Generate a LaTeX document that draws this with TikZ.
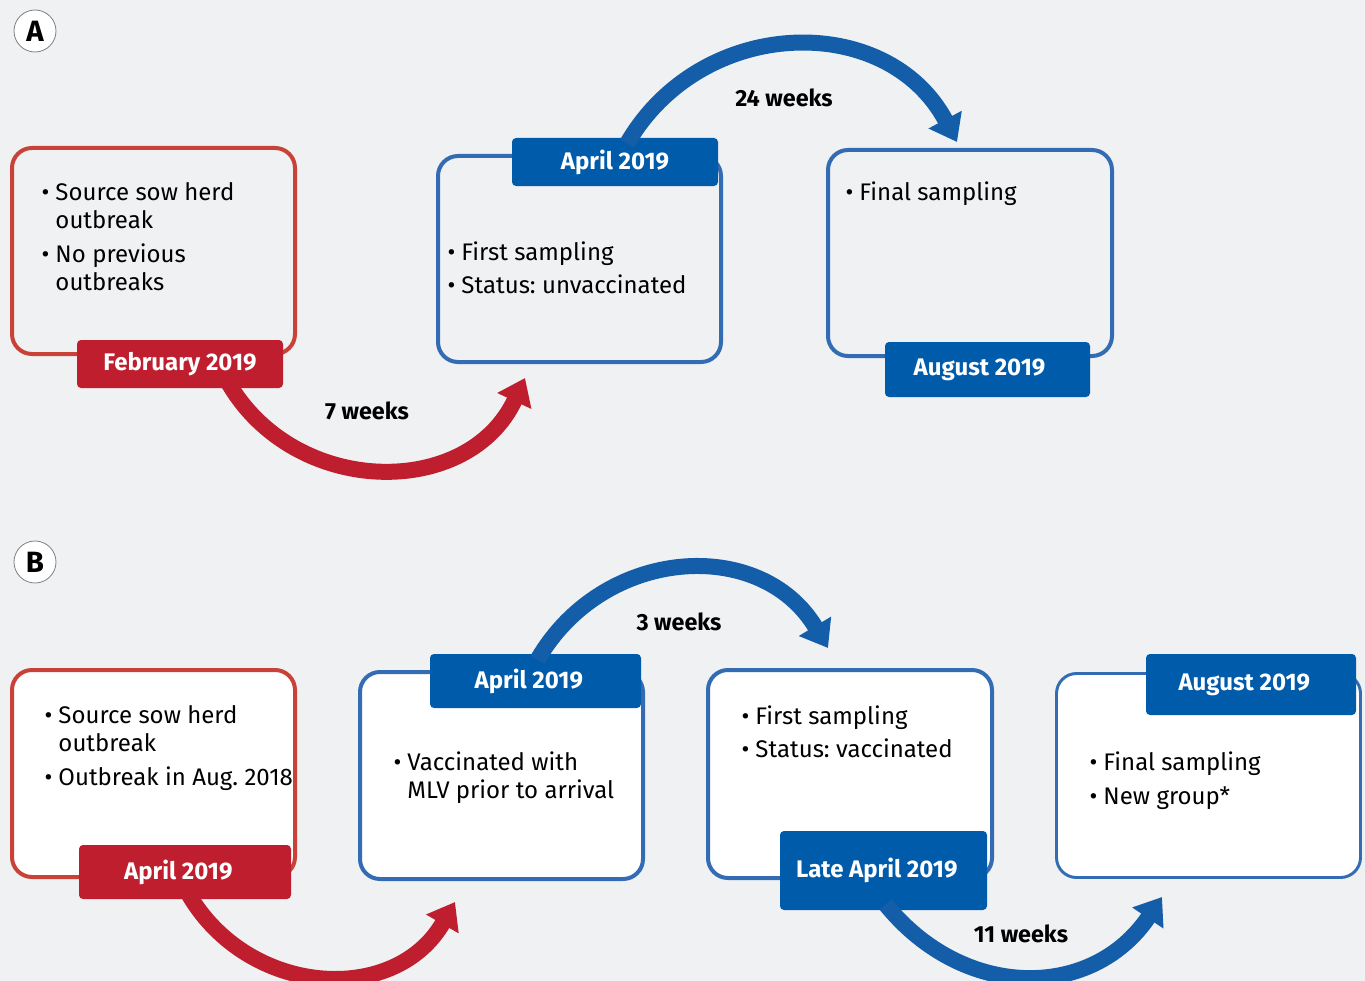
\documentclass[tikz,border=0pt]{standalone}
\usepackage{fontspec}
\setmainfont{Fira Sans}
\usetikzlibrary{arrows.meta}
\usetikzlibrary{calc}

\definecolor{bgray}{RGB}{239,241,243}
\definecolor{tabred}{RGB}{190,30,45}
\definecolor{linered}{RGB}{201,66,56}
\definecolor{tabblue}{RGB}{0,91,170}
\definecolor{lineblue}{RGB}{52,108,180}
\definecolor{arrowblue}{RGB}{20,93,168}

\frenchspacing
\newcommand{\pts}[1]{{\fontsize{18}{21}\selectfont
  \begin{tabular}[t]{@{}l@{\hspace{4.5pt}}l@{}}#1\end{tabular}}}

\tikzset{
  box/.style={line width=3pt,rounded corners=15pt,
    minimum width=283*0.75pt,minimum height=206*0.75pt,inner sep=0pt},
  tab/.style={rounded corners=3pt,text=white,inner sep=0pt,
    font=\bfseries\fontsize{18}{20}\selectfont,
    minimum width=206*0.75pt,minimum height=48*0.75pt},
  redtab/.style={tab,fill=tabred},
  bluetab/.style={tab,fill=tabblue},
  redarrow/.style={draw=tabred,line width=12pt,
    -{Triangle[length=19pt,width=27pt]}},
  bluearrow/.style={draw=arrowblue,line width=12pt,
    -{Triangle[length=19pt,width=27pt]}},
  weeks/.style={font=\bfseries\fontsize{17.5}{20}\selectfont},
  panel/.style={circle,draw=gray,line width=0.6pt,fill=white,inner sep=0pt,
    minimum size=42*0.75pt,font=\bfseries\fontsize{22}{24}\selectfont},
}

\begin{document}
\begin{tikzpicture}[x=0.75pt,y=0.75pt]
\fill[bgray] (0,0) rectangle (1365,-981);
\useasboundingbox (0,0) rectangle (1365,-981);

% ---- A ----
\node[panel] (pa) at (35,-31) {A};

\node[box,draw=linered] (a1) at (153.5,-251) {};
\node[box,draw=lineblue] (a2) at (579.5,-259) {};
\node[box,draw=lineblue,minimum width=284*0.75pt] (a3) at (970,-253) {};

\node[redtab] (a1tab) at (180,-364) {February 2019};
\node[bluetab] (a2tab) at (615,-162) {April 2019};
\node[bluetab,minimum width=205*0.75pt,minimum height=55*0.75pt] (a3tab) at (987.5,-369.5) {\hspace*{-12pt}August 2019};

\node[anchor=base west] (a1txt) at (37,-200.5) {\pts{\textbullet & Source sow herd\\
  & outbreak\\[4.5pt]
  \textbullet & No previous\\
  & outbreaks}};
\node[anchor=base west] (a2txt) at (443,-260.5) {\pts{\textbullet & First sampling\\[4pt]
  \textbullet & Status: unvaccinated}};
\node[anchor=base west] (a3txt) at (841,-200.5) {\pts{\textbullet & Final sampling}};

\coordinate (a2in) at (525,-378);
\coordinate (a3in) at (957,-142);
\draw[redarrow] ($(a1tab.south)+(48,6)$) to[out=-60,in=-115,looseness=1.15] (a2in);
\draw[bluearrow] ($(a2tab.north)+(12,-6)$) to[out=60,in=118,looseness=1.15] (a3in);

\node[weeks] (wa1) at (367,-411) {7 weeks};
\node[weeks] (wa2) at (784,-98) {24 weeks};

% ---- B ----
\node[panel] (pb) at (35,-562) {B};

\node[box,draw=linered,fill=white,minimum height=207*0.75pt] (b1) at (153.5,-773.5) {};
\node[box,draw=lineblue,fill=white,minimum height=207*0.75pt] (b2) at (501.5,-775.5) {};
\node[box,draw=lineblue,fill=white,minimum width=284*0.75pt,minimum height=208*0.75pt] (b3) at (850,-774) {};
\node[box,draw=lineblue,fill=white,line width=2.2pt,minimum width=304*0.75pt,minimum height=204*0.75pt] (b4) at (1208.5,-775.5) {};

\node[redtab,minimum width=212*0.75pt,minimum height=54*0.75pt] (b1tab) at (185,-872) {\hspace*{-10pt}April 2019};
\node[bluetab,minimum width=211*0.75pt,minimum height=54*0.75pt] (b2tab) at (535.5,-681) {\hspace*{-10pt}April 2019};
\node[bluetab,minimum width=207*0.75pt,minimum height=79*0.75pt] (b3tab) at (883.5,-870.5) {\hspace*{-10pt}Late April 2019};
\node[bluetab,minimum width=210*0.75pt,minimum height=61*0.75pt] (b4tab) at (1251,-684.5) {\hspace*{-10pt}August 2019};

\node[anchor=base west] (b1txt) at (40,-723.5) {\pts{\textbullet & Source sow herd\\
  & outbreak\\[4.5pt]
  \textbullet & Outbreak in Aug. 2018}};
\node[anchor=base west] (b2txt) at (389,-770.5) {\pts{\textbullet & Vaccinated with\\
  & MLV prior to arrival}};
\node[anchor=base west] (b3txt) at (737,-724.5) {\pts{\textbullet & First sampling\\[4pt]
  \textbullet & Status: vaccinated}};
\node[anchor=base west] (b4txt) at (1085,-770.5) {\pts{\textbullet & Final sampling\\[4.5pt]
  \textbullet & New group*}};

\coordinate (b2in) at (455,-902);
\coordinate (b3in) at (828,-648);
\coordinate (b4in) at (1162,-897);
\draw[redarrow] ($(b1tab.south)+(3,6)$) to[out=-60,in=-120,looseness=1.15] (b2in);
\draw[bluearrow] ($(b2tab.north)+(2,-6)$) to[out=60,in=121,looseness=1.15] (b3in);
\draw[bluearrow] ($(b3tab.south)+(2,6)$) to[out=-51,in=-124,looseness=1.15] (b4in);

\node[weeks] (wb1) at (679,-622) {3 weeks};
\node[weeks] (wb2) at (1021,-934) {11 weeks};
\end{tikzpicture}
\end{document}
